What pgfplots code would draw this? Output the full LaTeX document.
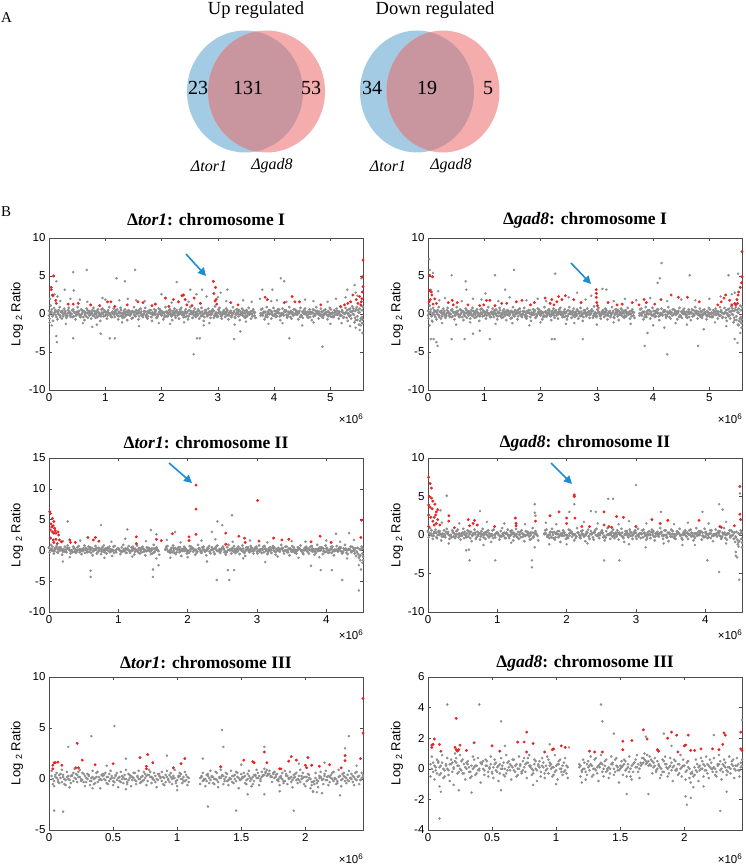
\documentclass[border=0pt]{standalone}
\usepackage{pgfplots}
\pgfplotsset{compat=1.18}
\usepackage{pgfplotstable}
\usepackage{fontspec}
\setmainfont{Liberation Serif}
\newfontfamily\arial{Liberation Sans}
\usetikzlibrary{arrows.meta}
\definecolor{vblue}{RGB}{164,203,228}
\definecolor{vred}{RGB}{244,172,172}
\definecolor{vover}{RGB}{201,150,160}
\definecolor{ptgray}{RGB}{142,142,142}
\definecolor{ptred}{RGB}{232,35,35}
\definecolor{arrowblue}{RGB}{30,140,210}

% chromosome I background (x in units of 10 kb)
\pgfplotstableread{
x a xb b xc c xd d e
0 .4 1 -.6 3 1.1 2 .1 -.2
4 .2 5 .6 7 -.9 6 -.3 .3
8 -.1 9 .8 11 .5 10 .2 .0
12 .3 13 -.4 15 -.7 14 .4 -.1
16 .0 17 .5 19 .9 18 -.1 .2
20 -.2 21 .3 23 -.6 22 .3 -.4
24 .1 25 -.3 27 .7 26 .0 .4
28 .2 29 .4 31 -.5 30 -.2 .1
32 -.1 33 .1 35 .8 34 .5 -.3
36 .3 37 -.2 39 -.4 38 .1 .2
40 .0 41 .5 43 .6 42 -.4 .0
44 -.3 45 .2 47 -.7 46 .2 .3
48 .2 49 -.1 51 .9 50 .3 -.2
52 .1 53 .4 55 -.3 54 -.1 .1
56 -.2 57 .6 59 .5 58 .0 -.4
60 .3 61 -.4 63 -.8 62 .4 .2
64 .0 65 .2 67 .7 66 -.3 -.1
68 .1 69 -.5 71 .4 70 .2 .5
72 -.1 73 .3 75 -.6 74 .1 -.2
76 .2 77 .5 79 .8 78 -.2 .0
80 -.3 81 .0 83 -.5 82 .3 .4
84 .1 85 .4 87 .6 86 -.4 -.1
88 .2 89 -.2 91 -.9 90 .0 .2
92 -.1 93 .6 95 .7 94 .2 -.3
96 .0 97 -.3 99 .3 98 .5 .1
100 .3 101 .2 103 -.6 102 -.1 -.2
104 -.2 105 .5 107 .9 106 .1 .3
108 .1 109 -.1 111 -.4 110 -.3 .0
112 .2 113 .3 115 .7 114 .0 -.4
116 -.1 117 -.4 119 .5 118 .4 .2
120 .0 121 .6 123 -.7 122 -.2 .1
124 .3 125 .1 127 .8 126 .2 -.3
128 -.2 129 -.3 131 -.5 130 .1 .5
132 .1 133 .4 135 .6 134 -.4 -.1
136 .2 137 -.2 139 -.8 138 .3 .0
140 -.1 141 .5 143 .4 142 -.1 .2
144 .0 145 .2 147 -.6 146 .0 -.2
148 .3 149 -.5 151 .9 150 .2 .4
152 -.2 153 .3 155 .5 154 -.3 -.1
156 .1 157 .0 159 -.7 158 .4 .1
160 .2 161 .6 163 .7 162 .1 -.3
164 -.1 165 -.2 167 -.4 166 -.2 .3
168 .0 169 .4 171 .8 170 .3 .0
172 .3 173 -.4 175 -.6 174 .0 -.2
176 -.3 177 .2 179 .5 178 .2 .4
180 .1 181 .5 183 -.9 182 -.4 .1
184 .2 185 -.1 187 .6 186 .1 -.1
188 -.1 189 .3 191 -.5 190 .5 .2
192 .0 193 -.3 195 .7 194 -.1 -.4
196 .2 197 .6 199 .4 198 .0 .3
200 -.2 201 .1 203 -.7 202 .3 .0
204 .1 205 -.4 207 .9 206 -.2 .2
208 .3 209 .3 211 -.3 210 .1 -.3
212 -.1 213 .5 215 .6 214 .2 .1
216 .0 217 -.2 219 -.8 218 -.3 .4
220 .2 221 .4 223 .7 222 .0 -.1
224 -.2 225 -.5 227 .5 226 .4 .2
228 .1 229 .2 231 -.6 230 -.1 -.2
232 .3 233 .6 235 .8 234 .2 .0
236 -.1 237 -.1 239 -.4 238 .1 .3
240 .0 241 .3 243 .6 242 -.4 -.1
244 .2 245 -.3 247 -.7 246 .3 .1
248 -.3 249 .5 251 .9 250 .0 -.3
252 .1 253 .0 255 -.5 254 .2 .4
256 .2 257 .4 259 .7 258 -.2 .0
260 -.1 261 -.4 263 .3 262 .1 .2
264 .0 265 .6 267 -.6 266 .4 -.2
268 .3 269 .1 271 .8 270 -.3 .1
272 -.2 273 -.2 275 -.9 274 .0 .3
276 .1 277 .5 279 .5 278 .2 -.4
280 .2 281 -.3 283 .7 282 -.1 .0
284 -.1 285 .3 287 -.5 286 .3 .2
288 .0 289 .4 291 .6 290 .1 -.1
292 .4 293 -.5 295 1.0 294 -.2 .4
296 -.2 297 .2 299 -.4 298 .0 .1
300 .1 301 .6 303 .8 302 .4 -.3
304 .2 305 -.1 307 -.6 306 -.3 .2
308 -.1 309 .3 311 .5 310 .2 .0
312 .0 313 -.4 315 .7 314 .1 .3
316 .3 317 .5 319 -.7 318 -.1 -.2
320 -.2 321 .2 323 .4 322 .3 .1
324 .1 325 -.2 327 .9 326 .0 -.4
328 .2 329 .4 331 -.5 330 -.4 .2
332 -.1 333 .6 335 .6 334 .2 .0
336 .0 337 -.3 339 -.8 338 .5 .3
340 .3 341 .1 343 .7 342 -.1 -.1
344 -.2 345 .5 347 -.4 346 .1 .2
348 .1 349 -.5 351 .5 350 -.2 .4
352 .2 353 .3 355 .8 354 .0 -.3
356 -.1 357 .0 359 -.6 358 .3 .1
360 .0 361 .4 363 .6 362 -.3 .0
364 .3 365 -.2 367 -.5 366 .2 .2
376 .1 377 .6 379 .7 378 .0 -.2
380 -.2 381 .2 383 -.7 382 .3 .1
384 .2 385 -.4 387 .9 386 -.1 .3
388 -.1 389 .3 391 .5 390 .1 -.4
392 .0 393 .5 395 -.6 394 .4 .0
396 .3 397 -.1 399 .8 398 -.2 .2
400 -.2 401 .4 403 -.4 402 .0 -.1
404 .1 405 -.3 407 .6 406 .2 .4
408 .2 409 .6 411 -.8 410 -.3 .1
412 -.1 413 .1 415 .7 414 .1 -.2
416 .0 417 -.2 419 .5 418 .3 .0
420 .3 421 .5 423 -.5 422 -.1 .3
424 -.3 425 .3 427 .9 426 .0 -.3
428 .1 429 -.4 431 -.6 430 .4 .2
432 .2 433 .2 435 .6 434 -.2 .0
436 -.1 437 .6 439 .4 438 .1 -.1
440 .0 441 -.1 443 -.7 442 .2 .4
444 .2 445 .4 447 .8 446 -.4 .1
448 -.2 449 -.3 451 -.5 450 .3 -.2
452 .1 453 .5 455 .7 454 .0 .2
456 .3 457 .1 459 -.4 458 -.1 .0
460 -.1 461 -.5 463 .6 462 .2 .3
464 .0 465 .3 467 -.8 466 .1 -.4
468 .2 469 .6 471 .5 470 -.3 .1
472 -.2 473 -.2 475 .9 474 .4 .0
476 .1 477 .4 479 -.6 478 .0 .2
480 .3 481 .0 483 .7 482 -.2 -.1
484 -.1 485 -.4 487 -.5 486 .3 .3
488 .0 489 .5 491 .6 490 .1 -.2
492 .2 493 .2 495 -.7 494 -.1 .0
496 -.3 497 -.1 499 .8 498 .2 .4
500 .1 501 .6 503 -.4 502 .0 -.3
504 .2 505 -.3 507 .5 506 -.4 .1
508 -.1 509 .3 511 .7 510 .3 .2
512 .0 513 .4 515 -.6 514 .1 -.1
516 .3 517 -.2 519 .9 518 -.2 .0
520 -.2 521 .5 523 -.5 522 .2 .3
524 .1 525 .1 527 .8 526 .0 -.4
528 .2 529 -.5 531 -.9 530 .5 .2
532 -.1 533 .6 535 .7 534 -.3 .1
536 .3 537 -.6 539 1.0 538 .3 -.2
540 .0 541 .7 543 -1.1 542 -.1 .4
544 .4 545 -.8 547 .9 546 .6 -.5
548 -.3 549 .5 551 -1.4 550 .2 -.8
552 .2 553 -.9 555 1.1 554 -.6 .7
556 .5 557 -1.2 557 -.7 558 .9 -.4
}\bandI

% chromosome II background
\pgfplotstableread{
x a xb b xc c xd d e
0 .5 1 -.3 3 .9 2 .2 .4
4 .2 5 .6 7 -.5 6 -.1 .0
8 -.1 9 .4 11 .7 10 .3 .2
12 .3 13 -.4 15 .5 14 .0 -.3
16 .0 17 .5 19 -.7 18 .1 .3
20 -.2 21 .2 23 .6 22 -.2 .1
24 .1 25 -.3 27 .8 26 .4 -.1
28 .2 29 .4 31 -.5 30 .0 .2
32 -.1 33 .0 35 .6 34 -.3 .0
36 .3 37 -.2 39 -.4 38 .2 .4
40 .0 41 .5 43 .7 42 .1 -.2
44 -.3 45 .2 47 -.6 46 -.1 .1
48 .2 49 -.1 51 .8 50 .3 .0
52 .1 53 .4 55 -.3 54 .0 -.4
56 -.2 57 .6 59 .5 58 -.2 .2
60 .3 61 -.4 63 -.8 62 .4 .1
64 .0 65 .2 67 .7 66 .1 -.1
68 .1 69 -.5 71 .4 70 -.3 .3
72 -.1 73 .3 75 -.6 74 .2 .0
76 .2 77 .5 79 .8 78 .0 -.2
80 -.3 81 .0 83 -.5 82 .3 .2
84 .1 85 .4 87 .6 86 -.1 .4
88 .2 89 -.2 91 -.9 90 .1 -.3
92 -.1 93 .6 95 .7 94 -.4 .1
96 .0 97 -.3 99 .3 98 .2 .0
100 .3 101 .2 103 -.6 102 .0 .3
104 -.2 105 .5 107 .9 106 -.2 -.1
108 .1 109 -.1 111 -.4 110 .3 .2
112 .2 113 .3 115 .7 114 .1 -.4
116 -.1 117 -.4 119 .5 118 -.1 .0
120 .0 121 .6 123 -.7 122 .2 .3
124 .3 125 .1 127 .8 126 .0 -.2
128 -.2 129 -.3 131 -.5 130 .4 .1
132 .1 133 .4 135 .6 134 -.3 .0
136 .2 137 -.2 139 -.8 138 .1 .2
140 -.1 141 .5 143 .4 142 .0 -.1
144 .0 145 .2 147 -.6 146 -.2 .4
148 .3 149 -.5 151 .9 150 .3 .0
152 -.2 153 .3 155 .5 154 .1 -.3
156 .1 157 .0 159 -.7 158 -.1 .2
168 .2 169 .6 171 .7 170 .2 .1
172 -.1 173 -.2 175 -.4 174 .0 -.2
176 .0 177 .4 179 .8 178 -.3 .3
180 .3 181 -.4 183 -.6 182 .4 .0
184 -.3 185 .2 187 .5 186 .1 .2
188 .1 189 .5 191 -.9 190 -.1 -.3
192 .2 193 -.1 195 .6 194 .2 .1
196 -.1 197 .3 199 -.5 198 .0 .4
200 .0 201 -.3 203 .7 202 -.4 .0
204 .2 205 .6 207 .4 206 .3 -.1
208 -.2 209 .1 211 -.7 210 .1 .2
212 .1 213 -.4 215 .9 214 -.2 .0
216 .3 217 .3 219 -.3 218 .0 .3
220 -.1 221 .5 223 .6 222 .2 -.4
224 .0 225 -.2 227 -.8 226 -.1 .1
228 .2 229 .4 231 .7 230 .3 .0
232 -.2 233 -.5 235 .5 234 .1 -.2
236 .1 237 .2 239 -.6 238 -.3 .2
240 .3 241 .6 243 .8 242 .0 .4
244 -.1 245 -.1 247 -.4 246 .2 -.1
248 .0 249 .3 251 .6 250 .4 .0
252 .2 253 -.3 255 -.7 254 -.1 .3
256 -.3 257 .5 259 .9 258 .0 -.3
260 .1 261 .0 263 -.5 262 .2 .1
264 .2 265 .4 267 .7 266 -.2 .0
268 -.1 269 -.4 271 .3 270 .1 .2
272 .0 273 .6 275 -.6 274 .3 -.2
276 .3 277 .1 279 .8 278 .0 .1
280 -.2 281 -.2 283 -.9 282 -.4 .3
284 .1 285 .5 287 .5 286 .2 .0
288 .2 289 -.3 291 .7 290 .1 -.1
292 -.1 293 .3 295 -.5 294 -.1 .4
296 .0 297 .4 299 .6 298 .3 .1
300 .3 301 -.5 303 .8 302 .0 -.2
304 -.2 305 .2 307 -.4 306 .2 .0
308 .1 309 .6 311 .7 310 -.3 .2
312 .2 313 -.1 315 -.6 314 .1 .3
316 -.1 317 .3 319 .5 318 .0 -.4
320 .0 321 -.4 323 .7 322 .4 .1
324 .3 325 .5 327 -.7 326 -.2 .0
328 -.2 329 .2 331 .4 330 .1 .2
332 .1 333 -.2 335 .9 334 .2 -.1
336 .2 337 .4 339 -.5 338 -.1 .3
340 -.1 341 .6 343 .6 342 .0 .0
344 .0 345 -.3 347 -.8 346 .3 -.3
348 .3 349 .1 351 .7 350 -.2 .2
352 -.2 353 .5 355 -.4 354 .1 .1
356 .1 357 -.5 359 .5 358 .0 -.2
360 .2 361 .3 363 .8 362 .2 .4
364 -.1 365 .0 367 -.6 366 -.4 .0
368 .0 369 .4 371 .6 370 .1 .2
372 .3 373 -.2 375 -.5 374 .3 -.1
376 .1 377 .6 379 .7 378 .0 .1
380 -.2 381 .2 383 -.7 382 -.1 .3
384 .2 385 -.4 387 .9 386 .2 -.2
388 -.1 389 .3 391 .5 390 .0 .0
392 .0 393 .5 395 -.6 394 .4 .2
396 .3 397 -.1 399 .8 398 -.3 -.1
400 -.2 401 .4 403 -.4 402 .1 .3
404 .1 405 -.3 407 .6 406 .2 .0
408 .2 409 .6 411 -.8 410 -.1 -.4
412 -.1 413 .1 415 .7 414 .0 .1
416 .0 417 -.2 419 .5 418 .3 .2
420 .3 421 .5 423 -.5 422 -.2 .0
424 -.3 425 .3 427 .9 426 .1 -.2
428 .1 429 -.4 431 -.6 430 .0 .3
432 .2 433 .2 435 .6 434 .2 .1
436 -.1 437 .6 439 .4 438 -.1 -.3
440 .0 441 -.5 443 -.9 442 .3 .0
444 -.3 445 .4 447 -1.2 446 -.6 -.2
448 .2 449 -.8 451 .6 450 .1 -.9
452 -.5 452 .3 453 -1.6 453 -1.0 .4
}\bandII

% chromosome III background
\pgfplotstableread{
x a xb b c d
2 .3 3 -.5 .8 .0
4 -.2 5 .4 -.7 .2
6 .1 7 -.1 .6 -.3
8 .4 9 .5 -.4 .1
10 -.3 11 .2 .9 .4
12 .0 13 -.6 -.5 -.1
14 .2 15 .3 .7 .0
16 -.1 17 -.4 -.8 .3
18 .3 19 .6 .4 -.2
20 .1 21 .0 1.0 .5
22 .4 23 .7 -.3 .2
24 .2 25 -.2 .9 .0
26 -.1 27 .5 .6 -.3
28 .3 29 -.3 -.7 .1
30 .0 31 .4 .5 .3
32 -.2 33 .1 -.6 -.2
34 .2 35 -.5 .8 .0
36 .1 37 .6 -.4 .2
38 -.3 39 .2 .7 -.1
40 .0 41 -.1 -.9 .4
42 .3 43 .4 .5 .0
44 -.1 45 -.4 .6 .2
46 .2 47 .5 -.5 -.2
48 .0 49 .1 .8 .3
50 -.2 51 -.3 -.6 .1
52 .3 53 .6 .4 -.1
54 .1 55 -.2 -.8 .2
56 -.3 57 .3 .7 .0
58 .2 59 .0 -.4 .4
60 .0 61 -.5 .9 -.3
62 -.1 63 .4 .5 .1
64 .3 65 -.1 -.7 .2
66 .1 67 .6 .6 -.1
68 -.2 69 .2 -.5 .3
70 .0 71 -.4 .8 .0
72 .2 73 .3 -.3 -.2
74 -.1 75 .5 .7 .1
76 .3 77 -.2 -.6 .4
78 .4 79 .7 .9 .2
80 .2 81 .1 -.4 .0
82 -.1 83 -.3 .6 .3
84 .0 85 .5 -.8 -.1
86 .3 87 .2 .5 .1
88 -.2 89 -.5 .7 .2
90 .1 91 .4 -.6 -.3
92 .2 93 -.1 .8 .0
94 -.3 95 .6 .4 .2
96 .0 97 .3 -.5 .1
98 .1 99 -.4 .9 -.2
100 -.1 101 .2 -.7 .3
102 .3 103 .5 .6 .0
104 .0 105 -.2 -.4 .2
106 -.2 107 .4 .7 -.1
108 .2 109 -.3 -.6 .1
118 .1 119 .3 -.5 .2
120 -.2 121 -.1 .6 .0
122 .0 123 .4 -.7 -.2
124 .3 125 -.4 .5 .1
126 -.1 127 .2 .8 .3
128 .2 129 -.5 -.4 .0
130 .0 131 .6 .7 -.1
132 -.3 133 .1 -.8 .2
134 .1 135 .3 .9 .4
136 .3 137 -.2 -.5 .0
138 .2 139 .5 .6 -.2
140 -.1 141 .0 -.6 .1
142 .0 143 -.3 .8 .3
144 .3 145 .4 -.4 .0
146 -.2 147 .6 .7 .2
148 .1 149 -.1 -.9 -.1
150 .0 151 .2 .5 .1
152 .2 153 -.4 .6 .3
154 -.1 155 .5 -.5 .0
156 .3 157 .1 .8 -.2
158 .0 159 -.5 -.7 .2
160 -.2 161 .3 .4 .4
162 .1 163 .6 .9 .1
164 .3 165 -.2 -.6 .0
166 .2 167 .4 .7 .3
168 .4 169 .7 1.0 .6
170 .3 171 .5 .9 .4
172 .5 173 .2 .8 .3
174 .2 175 .6 -.3 .5
176 .1 177 .4 .7 .2
178 -.1 179 -.2 .5 .0
180 .2 181 .3 -.6 .1
182 .0 183 -.4 .6 -.2
184 -.2 185 .5 .8 .3
186 .3 187 .1 -.5 .0
188 .1 189 -.3 .7 .2
190 -.1 191 .4 -.8 .1
192 .2 193 .6 .5 -.1
194 .0 195 -.1 -.4 .3
196 -.3 197 .3 .9 .0
198 .1 199 -.5 .6 .2
200 .2 201 .2 -.7 -.2
202 -.1 203 .4 .5 .1
204 .0 205 -.6 -.9 -.3
206 -.3 207 -.2 -1.2 -.5
208 .1 209 -.4 .6 -.1
210 -.2 211 .3 -.8 .1
212 .2 213 -.1 .7 .0
214 .0 215 .5 -.5 .3
216 -.1 217 .2 .8 -.1
218 .3 219 -.3 -.6 .2
220 .1 221 .6 .4 .0
222 -.2 223 .0 .7 .1
224 .0 225 -.4 -.5 -.2
226 .2 227 .3 .9 .3
228 -.1 229 .5 -.7 .0
230 .3 231 -.2 .6 .2
232 .1 233 .4 -.4 -.1
234 -.2 235 .1 .8 .1
236 .0 237 -.3 .5 .3
238 .2 239 .6 -.6 .0
240 -.1 241 .2 .7 .2
242 .3 243 -.1 -.5 -.1
244 .1 245 .4 .6 .2
}\bandIII

\pgfplotsset{
  chrom/.style={scale only axis, width=314pt, height=152pt,
    tick align=inside, major tick length=3pt,
    axis line style={black!70}, every tick/.style={black!70},
    tick label style={font=\arial\fontsize{11.5}{12}\selectfont},
    clip=false},
  cI/.style={xmin=0, xmax=558, xtick={0,100,200,300,400,500}, xticklabels={0,1,2,3,4,5}},
  cII/.style={xmin=0, xmax=453, xtick={0,100,200,300,400}, xticklabels={0,1,2,3,4}},
  cIII/.style={xmin=0, xmax=245, xtick={0,50,100,150,200}, xticklabels={0,0.5,1,1.5,2}},
  gp/.style={only marks, mark=*, mark size=1.05pt, color=ptgray, mark options={draw=none}},
  gb/.style={only marks, mark=*, mark size=1.2pt, color=ptgray, mark options={draw=none}},
  gc/.style={only marks, mark=*, mark size=1.1pt, color=ptgray, mark options={draw=none}},
  rp/.style={only marks, mark=*, mark size=1.25pt, color=ptred, mark options={draw=none}},
}
\newcommand{\ylab}{\arial\fontsize{13}{14}\selectfont Log {\fontsize{9}{9}\selectfont\raisebox{-0.35ex}{2}} Ratio}
\newcommand{\xsc}{\arial\fontsize{11.5}{12}\selectfont ×10\raisebox{0.6ex}{\fontsize{8}{8}\selectfont 6}}
\newcommand{\ttl}{\bfseries\fontsize{17.5}{19}\selectfont}
\newcommand{\bandplots}[1]{%
  \addplot[gb] table[x=x,y=a]{#1};
  \addplot[gb] table[x=xb,y=b]{#1};
  \addplot[gb] table[x=xc,y=c]{#1};
  \addplot[gb] table[x=xd,y=d]{#1};
  \addplot[gb] table[x=x,y=e]{#1};}

\begin{document}
\begin{tikzpicture}[x=1pt,y=1pt]
\path[use as bounding box] (0,0) rectangle (745,-866);

% ---------- Venn diagrams ----------
\node[anchor=west,inner sep=0,font=\fontsize{15}{16}\selectfont] at (1,-18) {A};
\node[inner sep=0,font=\fontsize{18.5}{20}\selectfont] at (256,-10) {Up regulated};
\node[inner sep=0,font=\fontsize{18.5}{20}\selectfont] at (435,-10) {Down regulated};

\fill[vblue] (245,-91.5) ellipse [x radius=58, y radius=61];
\fill[vred] (266.5,-91.5) ellipse [x radius=58.5, y radius=61];
\begin{scope}
\clip (245,-91.5) ellipse [x radius=58, y radius=61];
\fill[vover] (266.5,-91.5) ellipse [x radius=58.5, y radius=61];
\end{scope}
\fill[vblue] (417,-91.5) ellipse [x radius=57, y radius=61];
\fill[vred] (443,-91.5) ellipse [x radius=56.5, y radius=61];
\begin{scope}
\clip (417,-91.5) ellipse [x radius=57, y radius=61];
\fill[vover] (443,-91.5) ellipse [x radius=56.5, y radius=61];
\end{scope}

\begin{scope}[every node/.style={inner sep=0,font=\fontsize{20}{22}\selectfont}]
\node at (198,-88) {23};
\node at (248,-88) {131};
\node at (311,-88) {53};
\node at (372,-88) {34};
\node at (427,-88) {19};
\node at (488,-88) {5};
\end{scope}
\begin{scope}[every node/.style={inner sep=0,font=\itshape\fontsize{16}{18}\selectfont}]
\node at (209,-166) {Δtor1};
\node at (272,-166) {Δgad8};
\node at (388,-166) {Δtor1};
\node at (451,-166) {Δgad8};
\end{scope}

\node[anchor=west,inner sep=0,font=\fontsize{15}{16}\selectfont] at (1,-212) {B};

% ---------- titles, labels ----------
\node[inner sep=0] at (206,-220) {\ttl Δ\textit{tor1}: chromosome I};
\node[inner sep=0] at (585,-220) {\ttl Δ\textit{gad8}: chromosome I};
\node[inner sep=0] at (206,-443) {\ttl Δ\textit{tor1}: chromosome II};
\node[inner sep=0] at (585,-443) {\ttl Δ\textit{gad8}: chromosome II};
\node[inner sep=0] at (206,-663) {\ttl Δ\textit{tor1}: chromosome III};
\node[inner sep=0] at (585,-663) {\ttl Δ\textit{gad8}: chromosome III};

\node[rotate=90,inner sep=0] at (17,-314) {\ylab};
\node[rotate=90,inner sep=0] at (397,-314) {\ylab};
\node[rotate=90,inner sep=0] at (17,-535) {\ylab};
\node[rotate=90,inner sep=0] at (397,-535) {\ylab};
\node[rotate=90,inner sep=0] at (17,-753) {\ylab};
\node[rotate=90,inner sep=0] at (397,-753) {\ylab};

\node[anchor=east,inner sep=0] at (363,-419) {\xsc};
\node[anchor=east,inner sep=0] at (742,-419) {\xsc};
\node[anchor=east,inner sep=0] at (363,-635) {\xsc};
\node[anchor=east,inner sep=0] at (742,-635) {\xsc};
\node[anchor=east,inner sep=0] at (363,-859) {\xsc};
\node[anchor=east,inner sep=0] at (742,-859) {\xsc};

% ---------- P1: tor1 chr I ----------
\begin{axis}[chrom, cI, at={(49pt,-390pt)}, anchor=south west,
  ymin=-10, ymax=10, ytick={-10,-5,0,5,10}, yticklabels={-10,-5,0,5,10}]
\bandplots{\bandI}
\addplot[gp] coordinates {(13,4.3)(43,5.5)(67,5.8)(28,3.2)(44,3.1)(120,4.7)(135,4.3)(153,5.8)(227,4.2)(251,3.2)(272,3.2)(412,4.7)(418,4.3)(379,3.2)(397,3.2)(530,3.2)(543,3.8)(555,4.7)(317,3.2)
(20,1.7)(38,2.0)(55,1.9)(68,1.6)(95,2.1)(100,1.9)(125,1.8)(140,2.0)(155,1.8)(170,1.7)(200,2.6)(218,1.5)(248,1.6)(262,2.6)(280,2.3)(300,2.2)(305,2.8)(315,1.7)(345,1.8)(360,1.6)(375,2.0)(395,1.7)(405,1.8)(422,1.6)(455,1.9)(470,1.7)(495,1.6)(510,2.0)(527,2.2)(545,2.8)(548,2.4)(15,2.3)(2,2.0)(10,2.6)
(13,-2.9)(14,-3.7)(43,-3.2)(77,-1.7)(92,-2.6)(108,-3.2)(117,-3.2)(257,-5.3)(263,-3.2)(268,-3.2)(329,-3.3)(340,-2.3)(427,-3.2)(486,-4.3)(552,-2.1)(554,-1.5)(556,-1.2)(557,-2.5)
(30,-1.3)(60,-1.2)(85,-1.4)(130,-1.1)(160,-1.6)(195,-1.2)(215,-1.3)(240,-1.1)(275,-1.5)(285,-1.2)(330,-1.4)(350,-1.0)(390,-1.3)(415,-1.2)(450,-1.5)(470,-1.1)(500,-1.3)(520,-1.2)(535,-1.6)(545,-1.8)(5,-1.5)(1,-1.1)};
\addplot[rp] coordinates {(4,3.5)(4,3.2)(8,5.0)(6,2.5)(7,2.4)(12,1.8)(13,1.4)(34,1.3)(43,1.3)(52,1.4)(74,1.2)(90,1.1)(104,1.6)(110,1.6)(117,1.0)(139,1.2)(158,1.6)(167,1.5)(183,1.1)(189,1.3)(207,2.1)(213,1.0)(221,1.9)(230,1.6)(236,2.4)(239,2.5)(242,1.9)(245,1.2)(254,1.1)(258,2.1)(269,1.4)(292,4.3)(293,2.7)(296,3.5)(297,1.9)(298,1.3)(295,1.7)(323,1.5)(336,1.2)(384,2.2)(388,1.9)(418,1.5)(432,2.3)(437,1.6)(445,1.6)(483,1.2)(518,1.0)(525,1.2)(531,1.4)(536,1.6)(540,2.5)(546,1.9)(549,1.4)(552,2.3)(555,1.6)(558,3.6)(557,2.9)(558,7.1)(557,4.9)(556,2.0)(554,1.2)};
\end{axis}

% ---------- P2: gad8 chr I ----------
\begin{axis}[chrom, cI, at={(428pt,-390pt)}, anchor=south west,
  ymin=-10, ymax=10, ytick={-10,-5,0,5,10}, yticklabels={-10,-5,0,5,10}]
\bandplots{\bandI}
\addplot[gp] coordinates {(2,7.2)(3,5.8)(9,5.4)(42,5.1)(67,4.3)(68,3.2)(102,2.7)(119,5.1)(137,3.2)(153,5.8)(226,5.3)(265,2.8)(310,3.3)(317,3.2)(408,4.1)(415,6.7)(412,4.7)(465,5.1)(534,5.1)(551,5.3)(545,2.8)(5,3.2)(18,3.0)
(20,1.8)(30,2.1)(60,1.7)(80,2.0)(95,1.9)(125,1.7)(145,2.2)(175,1.8)(195,2.0)(210,1.7)(250,2.2)(280,1.9)(290,2.4)(330,1.7)(350,2.0)(370,1.8)(395,2.1)(425,1.7)(450,1.9)(475,1.8)(500,2.0)(520,2.3)(540,2.6)
(5,-3.3)(10,-3.3)(15,-3.7)(17,-4.2)(42,-3.3)(65,-3.3)(80,-2.6)(92,-2.2)(110,-3.3)(220,-3.3)(225,-3.3)(275,-3.3)(385,-4.2)(390,-2.5)(420,-1.8)(425,-5.3)(480,-4.2)(490,-2.0)(545,-3.3)(550,-3.8)(555,-2.5)(552,-1.5)(557,-1.8)(556,-1.1)
(25,-1.2)(50,-1.4)(75,-1.1)(120,-1.3)(150,-1.2)(180,-1.5)(200,-1.1)(245,-1.3)(260,-1.2)(300,-1.4)(330,-1.1)(360,-1.3)(400,-1.5)(440,-1.2)(460,-1.4)(510,-1.1)(530,-1.6)(3,-1.5)(8,-1.0)};
\addplot[rp] coordinates {(3,5.1)(8,4.9)(6,2.9)(3,3.1)(7,2.5)(2,1.6)(9,1.3)(12,2.0)(15,1.4)(4,1.9)(36,1.5)(43,1.8)(45,1.2)(52,1.5)(71,1.2)(92,1.1)(99,1.2)(104,1.8)(110,1.8)(119,1.1)(131,1.4)(140,1.4)(157,1.6)(167,1.8)(182,1.2)(189,1.5)(208,2.1)(217,1.4)(220,1.9)(224,1.2)(229,1.6)(232,2.3)(238,1.9)(244,2.4)(259,1.9)(272,1.5)(299,3.2)(299,2.7)(299,2.2)(300,1.5)(301,1.1)(320,1.5)(336,1.2)(345,1.3)(363,1.5)(375,1.2)(384,1.9)(388,1.5)(403,1.3)(414,1.9)(432,2.5)(445,2.2)(461,2.2)(482,1.6)(515,1.2)(521,1.6)(526,2.1)(529,2.5)(536,1.8)(540,1.2)(545,1.4)(549,1.9)(551,2.5)(552,2.9)(555,3.5)(557,4.1)(558,4.9)(558,8.2)(547,1.2)(550,1.4)};
\end{axis}

% ---------- P3: tor1 chr II ----------
\begin{axis}[chrom, cII, at={(49pt,-612pt)}, anchor=south west, height=154pt,
  ymin=-10, ymax=15, ytick={-10,-5,0,5,10,15}, yticklabels={-10,-5,0,5,10,15}]
\bandplots{\bandII}
\addplot[gp] coordinates {(27,4.7)(75,4.1)(113,3.4)(147,3.3)(155,2.6)(182,3.0)(235,3.0)(243,4.7)(250,4.1)(264,5.7)(414,2.7)(433,2.8)
(20,1.5)(45,1.6)(90,1.4)(110,1.9)(140,1.5)(170,1.7)(190,1.3)(220,1.6)(240,1.8)(265,1.4)(290,1.6)(315,1.3)(350,1.5)(370,1.4)(400,1.6)(420,1.4)(440,1.7)
(20,-1.8)(60,-3.3)(60,-4.3)(150,-3.1)(150,-4.3)(158,-2.4)(155,-1.3)(228,-1.8)(242,-4.8)(258,-3.2)(260,-4.8)(267,-3.2)(312,-1.9)(378,-2.5)(392,-3.2)(408,-3.2)(423,-4.8)(447,-6.5)(447,-2.4)(450,-3.1)(449,-1.6)(452,-2.0)
(30,-1.1)(80,-1.2)(120,-1.0)(175,-1.2)(200,-1.1)(280,-1.3)(330,-1.0)(360,-1.2)(390,-1.1)(430,-1.3)};
\addplot[rp] coordinates {(1,6.3)(2,6.0)(5,5.2)(7,4.7)(3,4.3)(6,4.0)(8,3.6)(2,3.3)(5,3.0)(7,2.8)(10,2.8)(13,3.0)(14,2.5)(2,2.0)(6,1.7)(10,1.8)(15,1.7)(12,1.1)(7,1.3)(18,1.4)(4,3.8)(9,3.2)
(30,1.7)(31,1.3)(38,1.3)(56,2.1)(64,1.7)(67,2.1)(72,1.5)(126,2.2)(126,1.1)(155,1.8)(162,1.6)(178,2.7)(202,2.2)(202,1.6)(212,10.6)(212,6.7)(212,2.6)(255,2.8)(255,1.0)(274,2.3)(282,2.0)(283,1.3)(301,8.1)(303,1.5)(324,2.0)(336,1.7)(346,1.8)(378,1.4)(391,2.3)(407,1.3)(451,4.9)(450,2.1)};
\end{axis}

% ---------- P4: gad8 chr II ----------
\begin{axis}[chrom, cII, at={(428pt,-612pt)}, anchor=south west, height=154pt,
  ymin=-10, ymax=10, ytick={-10,-5,0,5,10}, yticklabels={-10,-5,0,5,10}]
\bandplots{\bandII}
\addplot[gp] coordinates {(27,5.1)(75,3.1)(154,4.0)(154,2.9)(155,2.5)(211,4.0)(204,3.0)(260,4.7)(267,4.7)(235,3.1)(242,3.0)(300,6.5)(336,3.0)(396,3.0)(420,4.0)(425,3.3)(450,5.4)(18,3.2)
(20,1.6)(45,1.5)(85,1.7)(110,1.5)(140,1.4)(170,1.6)(185,1.4)(225,1.7)(245,1.5)(275,1.4)(290,1.8)(315,1.5)(355,1.4)(375,1.6)(405,1.5)(430,1.7)
(55,-2.0)(60,-3.3)(59,-1.9)(97,-3.3)(150,-3.3)(150,-4.2)(154,-1.6)(200,-1.2)(254,-3.3)(276,-3.3)(314,-1.6)(367,-1.3)(403,-3.3)(420,-4.8)(444,-2.7)(446,-2.9)(449,-5.8)(444,-2.2)(448,-1.5)
(30,-1.1)(80,-1.3)(120,-1.0)(175,-1.2)(230,-1.1)(290,-1.2)(340,-1.1)(385,-1.3)(430,-1.1)};
\addplot[rp] coordinates {(1,7.5)(3,6.7)(5,6.1)(2,5.0)(5,4.8)(7,4.4)(1,3.9)(3,3.6)(6,3.4)(1,2.6)(4,2.3)(9,2.3)(11,2.6)(12,3.0)(14,3.3)(7,1.8)(9,1.3)(12,1.5)(14,2.0)(1,1.1)(17,1.3)(10,4.0)
(30,2.5)(30,1.8)(38,0.95)(58,2.0)(60,1.2)(65,1.5)(67,1.9)(71,1.3)(96,1.1)(126,2.2)(127,1.5)(127,1.2)(155,1.8)(176,2.5)(189,3.0)(200,2.2)(200,1.5)(211,5.2)(211,5.0)(212,2.2)(222,1.1)(233,1.1)(254,3.0)(254,1.3)(261,1.1)(265,1.0)(272,2.4)(282,2.3)(300,1.1)(323,2.0)(335,1.5)(346,1.9)(391,1.9)(421,1.1)(423,1.0)(450,6.3)(450,2.7)(451,2.0)(442,1.2)};
\end{axis}

% ---------- P5: tor1 chr III ----------
\begin{axis}[chrom, cIII, at={(49pt,-830pt)}, anchor=south west, height=153pt,
  ymin=-5, ymax=10, ytick={-5,0,5,10}, yticklabels={-5,0,5,10}]
\addplot[gc] table[x=x,y=a]{\bandIII};
\addplot[gc] table[x=xb,y=b]{\bandIII};
\addplot[gc] table[x=x,y=c]{\bandIII};
\addplot[gc] table[x=xb,y=d]{\bandIII};
\addplot[gp] coordinates {(15,3.15)(33,4.2)(51,5.2)(60,2.0)(120,2.0)(135,4.8)(136,3.15)(168,3.15)(234,4.2)(231,3.0)(92,2.3)(45,1.3)(150,1.4)(195,1.5)(215,1.6)(240,1.3)
(4,-3.1)(11,-3.2)(124,-2.7)(146,-3.1)(155,-1.5)(168,-1.5)(191,-3.1)(206,-1.25)(209,-1.3)(213,-1.4)(227,-1.6)(34,-0.9)(60,-1.0)(100,-1.1)(180,-1.2)};
\addplot[rp] coordinates {(3,1.35)(3,1.0)(4,1.6)(5,1.6)(7,1.65)(10,1.35)(22,3.5)(21,1.1)(23,1.1)(26,1.85)(36,1.4)(50,1.5)(71,2.1)(76,1.25)(76,1.0)(77,2.4)(81,1.6)(97,1.1)(103,1.5)(106,2.0)(134,1.2)(152,1.85)(159,1.7)(160,1.6)(168,2.65)(170,1.6)(180,1.0)(181,1.0)(187,1.75)(189,2.2)(193,1.85)(200,1.35)(201,1.1)(202,2.1)(205,1.35)(211,1.25)(219,1.4)(228,1.1)(231,2.3)(231,1.8)(243,2.0)(245,7.9)(245,4.5)};
\end{axis}

% ---------- P6: gad8 chr III ----------
\begin{axis}[chrom, cIII, at={(428pt,-830pt)}, anchor=south west, height=153pt,
  ymin=-4, ymax=6, ytick={-4,-2,0,2,4,6}, yticklabels={-4,-2,0,2,4,6}]
\addplot[gc] table[x=x,y=b]{\bandIII};
\addplot[gc] table[x=xb,y=c]{\bandIII};
\addplot[gc] table[x=x,y=a]{\bandIII};
\addplot[gc] table[x=xb,y=d]{\bandIII};
\addplot[gp] coordinates {(15,4.2)(40,4.2)(57,3.1)(135,4.2)(136,3.1)(145,2.3)(170,2.1)(184,2.3)(223,2.2)(245,3.2)(95,1.6)(110,1.4)(60,1.5)(190,1.5)
(9,-3.25)(9,-1.15)(10,-1.5)(20,-1.05)(24,-1.4)(34,-1.55)(57,-1.4)(82,-1.05)(155,-1.65)(172,-1.65)(201,-1.8)(202,-2.35)(205,-1.9)(215,-1.15)(228,-2.75)(233,-1.5)(120,-0.9)(100,-1.0)};
\addplot[rp] coordinates {(3,1.55)(3,1.4)(4,1.6)(5,1.95)(9,1.6)(10,1.15)(22,3.3)(21,1.4)(22,1.25)(23,1.15)(24,1.25)(25,1.55)(30,1.2)(36,1.7)(50,1.5)(56,1.15)(70,1.75)(75,1.75)(77,2.4)(77,1.1)(82,1.65)(91,1.1)(97,1.25)(98,1.3)(104,1.5)(107,1.4)(126,1.15)(130,1.1)(136,1.1)(152,1.8)(152,1.25)(159,1.85)(168,2.55)(171,1.95)(179,1.25)(180,1.15)(187,2.0)(190,2.4)(194,2.2)(195,1.1)(200,1.5)(201,1.55)(203,2.2)(205,1.2)(208,1.2)(213,1.3)(222,1.3)(227,1.25)(230,1.6)(231,2.35)(232,2.2)(244,2.4)(244,1.3)(245,1.2)};
\end{axis}

% ---------- arrows ----------
\begin{scope}[arrowblue, line width=1.6pt, -{Triangle[length=8pt,width=8pt]}]
\draw (186,-254) -- (206,-276);
\draw (571,-263) -- (591,-284);
\draw (169,-463) -- (192,-483);
\draw (551,-463) -- (572,-484);
\end{scope}
\end{tikzpicture}
\end{document}
